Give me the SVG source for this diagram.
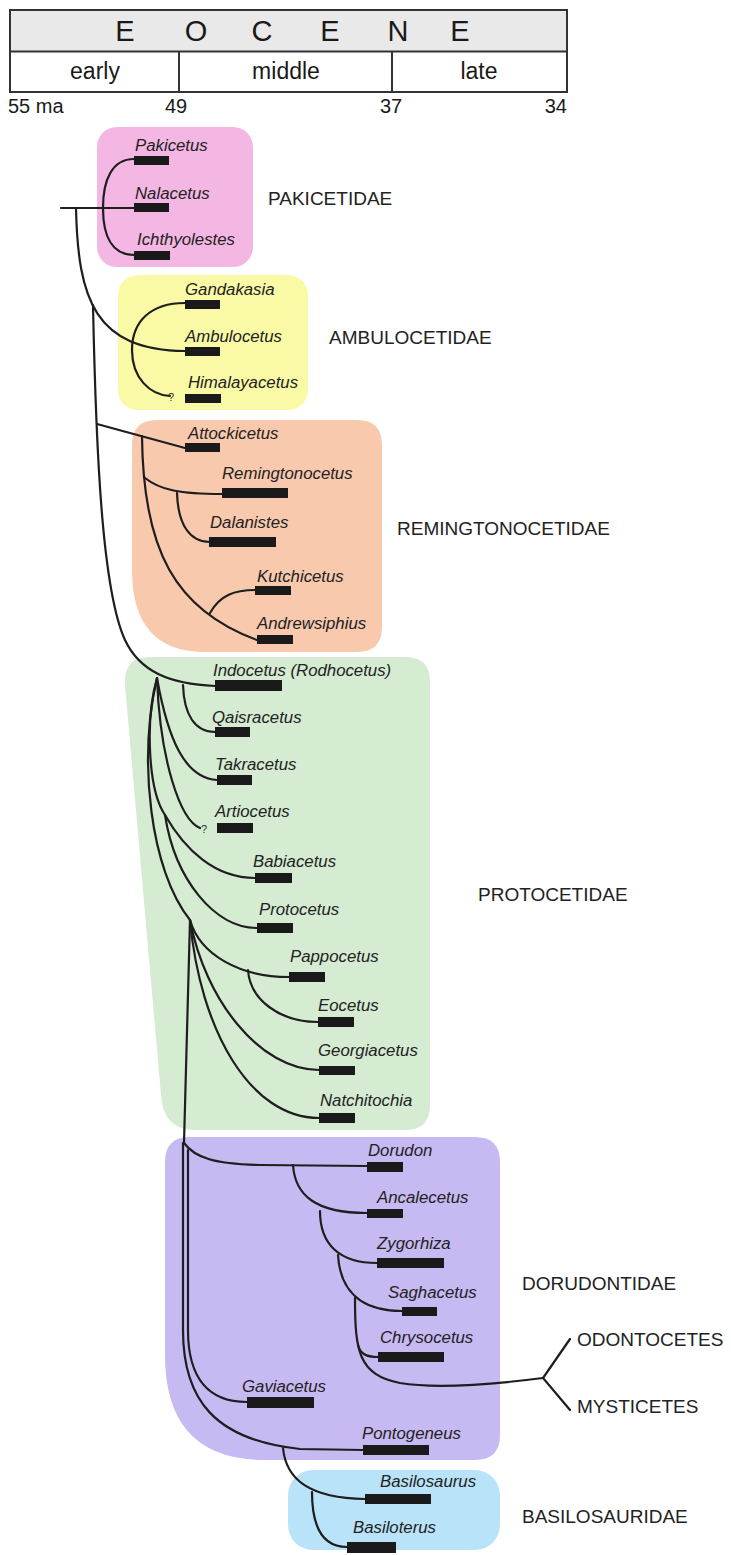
<svg xmlns="http://www.w3.org/2000/svg" width="731" height="1555" viewBox="0 0 731 1555">
<style>
.tx{font-family:"Liberation Sans",Arial,sans-serif;font-style:italic;font-size:16.8px;fill:#222}
.fam{font-family:"Liberation Sans",Arial,sans-serif;font-size:19px;fill:#222}
.hd{font-family:"Liberation Sans",Arial,sans-serif;fill:#1a1a1a}
.bar{fill:#1a1a1a}
.ln{fill:none;stroke:#1e1e1e;stroke-width:2.2;stroke-linecap:round}
.q{font-family:"Liberation Sans",Arial,sans-serif;font-size:11px;fill:#333}
</style>
<rect width="731" height="1555" fill="#ffffff"/>
<g id="timescale">
<rect x="10" y="10" width="557" height="41.5" fill="#e9e9e9"/>
<rect x="10" y="10" width="557" height="82" fill="none" stroke="#333" stroke-width="2"/>
<line x1="10" y1="51.5" x2="567" y2="51.5" stroke="#333" stroke-width="2"/>
<line x1="179" y1="51.5" x2="179" y2="92" stroke="#333" stroke-width="2"/>
<line x1="392" y1="51.5" x2="392" y2="92" stroke="#333" stroke-width="2"/>
<g class="hd" font-size="29" text-anchor="middle">
<text x="125" y="41">E</text><text x="196" y="41">O</text><text x="262" y="41">C</text><text x="330" y="41">E</text><text x="398" y="41">N</text><text x="460" y="41">E</text>
</g>
<g class="hd" font-size="23" text-anchor="middle">
<text x="95" y="79">early</text><text x="286" y="79">middle</text><text x="479" y="79">late</text>
</g>
<g class="hd" font-size="20">
<text x="8" y="113">55 ma</text><text x="176" y="113" text-anchor="middle">49</text><text x="391" y="113" text-anchor="middle">37</text><text x="567" y="113" text-anchor="end">34</text>
</g>
</g>
<g id="boxes">
<rect id="box-pakicetidae" x="97" y="127" width="156" height="140" rx="20" fill="#f4b6e2"/>
<rect id="box-ambulocetidae" x="118" y="275" width="190" height="135" rx="20" fill="#fafaa6"/>
<path id="box-remingtonocetidae" d="M157,420 H357 Q382,420 382,445 V627 Q382,652 357,652 H205 Q132,652 132,570 V445 Q132,420 157,420 Z" fill="#f9c9ae"/>
<path id="box-protocetidae" d="M150,657 H405 Q430,657 430,682 V1105 Q430,1130 405,1130 H195 Q163,1130 161,1095 L125,685 Q123,657 150,657 Z" fill="#d5ebd2"/>
<path id="box-dorudontidae" d="M190,1137 H475 Q500,1137 500,1162 V1435 Q500,1460 475,1460 H265 Q165,1460 165,1355 V1162 Q165,1137 190,1137 Z" fill="#c7b9f2"/>
<rect id="box-basilosauridae" x="288" y="1470" width="212" height="80" rx="25" fill="#b9e3f9"/>
</g>
<g id="connectors" class="ln">
<path d="M61,208 H134"/>
<path d="M134,159 C112,159 103,180 103,208 C103,236 112,255 134,255"/>
<path d="M76,208 C78,300 95,350 185,351"/>
<path d="M185,303 C150,303 132,322 132,350 C132,378 150,395 170,396"/>
<path d="M93,305 C96,450 102,590 125,640 C140,672 170,684 215,686"/>
<path d="M97,424 L185,448"/>
<path d="M145,478 C160,490 180,494 222,494"/>
<path d="M177,493 C178,525 190,542 210,542"/>
<path d="M142,436 C143,550 175,610 257,640"/>
<path d="M210,613 C220,595 235,590 255,590"/>
<path d="M183,685 C184,715 195,732 215,732"/>
<path d="M157,678 C168,740 185,778 217,780"/>
<path d="M157,678 C160,760 180,820 200,828"/>
<path d="M157,678 C145,720 148,790 165,815"/>
<path d="M157,678 C138,760 150,870 190,920"/>
<path d="M165,815 C185,850 215,878 255,878"/>
<path d="M165,815 C175,880 215,928 257,928"/>
<path d="M190,920 L184,1143"/>
<path d="M190,920 C200,955 240,977 289,977"/>
<path d="M248,970 C250,1000 280,1022 318,1022"/>
<path d="M190,920 C205,1000 260,1070 319,1070"/>
<path d="M190,920 C200,1030 250,1118 319,1118"/>
<path d="M184,1143 C195,1158 215,1164 260,1165 L367,1166"/>
<path d="M293,1165 C295,1195 315,1213 367,1213"/>
<path d="M320,1211 C320,1245 340,1263 377,1263"/>
<path d="M338,1255 C340,1290 360,1311 402,1311"/>
<path d="M355,1298 C355,1350 358,1375 400,1383 C430,1388 480,1386 543,1378"/>
<path d="M358,1345 C360,1353 365,1357 378,1357"/>
<path d="M570,1339 L543,1378 L570,1410"/>
<path d="M188,1150 L188,1330 C188,1380 210,1402 247,1402"/>
<path d="M183,1143 L183,1330 C183,1400 215,1440 300,1449 L363,1450"/>
<path d="M283,1448 C286,1480 310,1498 365,1499"/>
<path d="M312,1492 C312,1530 325,1547 347,1547"/>
</g>
<text class="q" x="168" y="401">?</text>
<text class="q" x="201" y="833">?</text>
<g id="pakicetus"><text class="tx" x="135" y="151">Pakicetus</text><rect class="bar" x="134" y="156" width="35" height="9"/></g>
<g id="nalacetus"><text class="tx" x="135" y="199">Nalacetus</text><rect class="bar" x="134" y="203" width="35" height="9"/></g>
<g id="ichthyolestes"><text class="tx" x="137" y="245">Ichthyolestes</text><rect class="bar" x="134" y="251" width="36" height="9"/></g>
<g id="gandakasia"><text class="tx" x="185" y="295">Gandakasia</text><rect class="bar" x="185" y="300" width="35" height="9"/></g>
<g id="ambulocetus"><text class="tx" x="185" y="342">Ambulocetus</text><rect class="bar" x="185" y="347" width="35" height="9"/></g>
<g id="himalayacetus"><text class="tx" x="188" y="388">Himalayacetus</text><rect class="bar" x="185" y="394" width="36" height="9"/></g>
<g id="attockicetus"><text class="tx" x="188" y="439">Attockicetus</text><rect class="bar" x="185" y="443" width="35" height="9"/></g>
<g id="remingtonocetus"><text class="tx" x="222" y="479">Remingtonocetus</text><rect class="bar" x="222" y="488" width="66" height="10"/></g>
<g id="dalanistes"><text class="tx" x="210" y="528">Dalanistes</text><rect class="bar" x="209" y="537" width="67" height="10"/></g>
<g id="kutchicetus"><text class="tx" x="257" y="582">Kutchicetus</text><rect class="bar" x="255" y="586" width="36" height="9"/></g>
<g id="andrewsiphius"><text class="tx" x="257" y="629">Andrewsiphius</text><rect class="bar" x="257" y="635" width="36" height="9"/></g>
<g id="indocetus"><text class="tx" x="213" y="676">Indocetus (Rodhocetus)</text><rect class="bar" x="215" y="680" width="67" height="11"/></g>
<g id="qaisracetus"><text class="tx" x="212" y="723">Qaisracetus</text><rect class="bar" x="215" y="727" width="35" height="10"/></g>
<g id="takracetus"><text class="tx" x="215" y="770">Takracetus</text><rect class="bar" x="217" y="775" width="35" height="10"/></g>
<g id="artiocetus"><text class="tx" x="215" y="817">Artiocetus</text><rect class="bar" x="217" y="823" width="36" height="10"/></g>
<g id="babiacetus"><text class="tx" x="253" y="867">Babiacetus</text><rect class="bar" x="255" y="873" width="37" height="10"/></g>
<g id="protocetus"><text class="tx" x="259" y="915">Protocetus</text><rect class="bar" x="257" y="923" width="36" height="10"/></g>
<g id="pappocetus"><text class="tx" x="290" y="962">Pappocetus</text><rect class="bar" x="289" y="972" width="36" height="10"/></g>
<g id="eocetus"><text class="tx" x="318" y="1011">Eocetus</text><rect class="bar" x="318" y="1017" width="36" height="10"/></g>
<g id="georgiacetus"><text class="tx" x="318" y="1056">Georgiacetus</text><rect class="bar" x="319" y="1066" width="36" height="9"/></g>
<g id="natchitochia"><text class="tx" x="320" y="1106">Natchitochia</text><rect class="bar" x="319" y="1113" width="36" height="10"/></g>
<g id="dorudon"><text class="tx" x="368" y="1156">Dorudon</text><rect class="bar" x="367" y="1162" width="36" height="10"/></g>
<g id="ancalecetus"><text class="tx" x="377" y="1203">Ancalecetus</text><rect class="bar" x="367" y="1209" width="36" height="9"/></g>
<g id="zygorhiza"><text class="tx" x="377" y="1249">Zygorhiza</text><rect class="bar" x="377" y="1258" width="67" height="10"/></g>
<g id="saghacetus"><text class="tx" x="388" y="1298">Saghacetus</text><rect class="bar" x="402" y="1307" width="35" height="9"/></g>
<g id="chrysocetus"><text class="tx" x="380" y="1343">Chrysocetus</text><rect class="bar" x="378" y="1352" width="66" height="10"/></g>
<g id="gaviacetus"><text class="tx" x="242" y="1392">Gaviacetus</text><rect class="bar" x="247" y="1397" width="67" height="11"/></g>
<g id="pontogeneus"><text class="tx" x="362" y="1439">Pontogeneus</text><rect class="bar" x="363" y="1445" width="66" height="10"/></g>
<g id="basilosaurus"><text class="tx" x="380" y="1487">Basilosaurus</text><rect class="bar" x="365" y="1494" width="66" height="10"/></g>
<g id="basiloterus"><text class="tx" x="353" y="1533">Basiloterus</text><rect class="bar" x="347" y="1542" width="49" height="11"/></g>
<g id="lbl-pakicetidae"><text class="fam" x="268" y="205">PAKICETIDAE</text></g>
<g id="lbl-ambulocetidae"><text class="fam" x="329" y="344">AMBULOCETIDAE</text></g>
<g id="lbl-remingtonocetidae"><text class="fam" x="397" y="535">REMINGTONOCETIDAE</text></g>
<g id="lbl-protocetidae"><text class="fam" x="478" y="901">PROTOCETIDAE</text></g>
<g id="lbl-dorudontidae"><text class="fam" x="522" y="1290">DORUDONTIDAE</text></g>
<g id="lbl-basilosauridae"><text class="fam" x="522" y="1523">BASILOSAURIDAE</text></g>
<g id="lbl-odontocetes"><text class="fam" x="577" y="1346">ODONTOCETES</text></g>
<g id="lbl-mysticetes"><text class="fam" x="577" y="1413">MYSTICETES</text></g>
</svg>
